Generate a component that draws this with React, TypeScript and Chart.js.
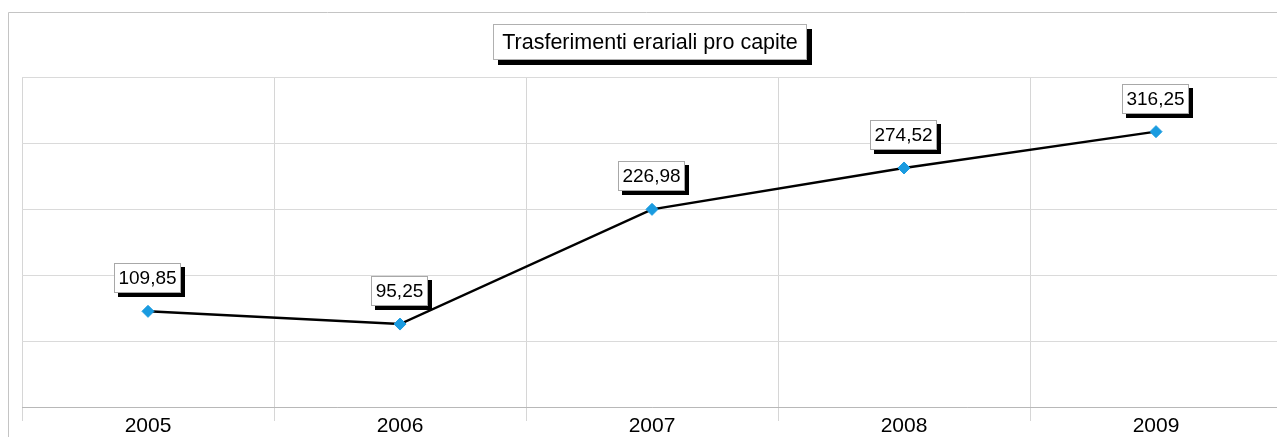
import React, { useEffect, useRef } from "react";
import { Chart, registerables } from "chart.js";

Chart.register(...registerables);

const TITLE = "Trasferimenti erariali pro capite";
const YEARS = ["2005", "2006", "2007", "2008", "2009"];
const VALUES = [109.85, 95.25, 226.98, 274.52, 316.25];
const Y_MAX = 379;
const FONT = '"Liberation Sans", Arial, sans-serif';

const fmt = (v: number) => v.toFixed(2).replace(".", ",");

const framePlugin = {
  id: "frame",
  beforeDraw(chart: any) {
    const ctx = chart.ctx;
    ctx.save();
    ctx.fillStyle = "#ffffff";
    ctx.fillRect(0, 0, chart.width, chart.height);
    ctx.strokeStyle = "#c4c4c4";
    ctx.lineWidth = 1;
    ctx.beginPath();
    ctx.moveTo(0.5, chart.height);
    ctx.lineTo(0.5, 0.5);
    ctx.lineTo(chart.width, 0.5);
    ctx.stroke();
    ctx.restore();
  },
};

const titlePlugin = {
  id: "boxTitle",
  afterDraw(chart: any) {
    const ctx = chart.ctx;
    const ca = chart.chartArea;
    ctx.save();
    ctx.font = `21.5px ${FONT}`;
    const tw = ctx.measureText(TITLE).width;
    const w = Math.round(tw + 18);
    const h = 36;
    const cx = (ca.left + ca.right) / 2 - 2;
    const x = Math.round(cx - w / 2);
    const y = 12;
    ctx.fillStyle = "#000000";
    ctx.fillRect(x + 5, y + 5, w, h);
    ctx.fillStyle = "#ffffff";
    ctx.fillRect(x, y, w, h);
    ctx.strokeStyle = "#b0b0b0";
    ctx.lineWidth = 1;
    ctx.strokeRect(x + 0.5, y + 0.5, w - 1, h - 1);
    ctx.fillStyle = "#000000";
    ctx.textAlign = "center";
    ctx.textBaseline = "middle";
    ctx.fillText(TITLE, x + w / 2, y + h / 2 + 1);
    ctx.restore();
  },
};

const labelPlugin = {
  id: "valueLabels",
  afterDatasetsDraw(chart: any) {
    const ctx = chart.ctx;
    const meta = chart.getDatasetMeta(0);
    const data = chart.data.datasets[0].data as number[];
    ctx.save();
    ctx.font = `19px ${FONT}`;
    meta.data.forEach((pt: any, i: number) => {
      const text = fmt(data[i]);
      const tw = ctx.measureText(text).width;
      const w = Math.round(tw + 9);
      const h = 30;
      const x = Math.round(pt.x - w / 2) - 1;
      const y = Math.round(pt.y - 18 - h);
      ctx.fillStyle = "#000000";
      ctx.fillRect(x + 4, y + 4, w, h);
      ctx.fillStyle = "#ffffff";
      ctx.fillRect(x, y, w, h);
      ctx.strokeStyle = "#a8a8a8";
      ctx.lineWidth = 1;
      ctx.strokeRect(x + 0.5, y + 0.5, w - 1, h - 1);
      ctx.fillStyle = "#000000";
      ctx.textAlign = "center";
      ctx.textBaseline = "middle";
      ctx.fillText(text, x + w / 2, y + h / 2 + 1);
    });
    ctx.restore();
  },
};

export default function App() {
  const ref = useRef<HTMLCanvasElement | null>(null);
  useEffect(() => {
    if (!ref.current) return;
    const chart = new Chart(ref.current, {
      type: "line",
      data: {
        labels: YEARS,
        datasets: [
          {
            data: VALUES,
            borderColor: "#000000",
            borderWidth: 2.5,
            pointStyle: "rectRot",
            pointRadius: 6,
            pointBackgroundColor: "#1a9be0",
            pointBorderColor: "#1a9be0",
            pointBorderWidth: 1,
            tension: 0,
            fill: false,
          },
        ],
      },
      options: {
        animation: false,
        responsive: false,
        maintainAspectRatio: false,
        devicePixelRatio: 1,
        layout: { autoPadding: false, padding: { left: 14, top: 65, right: 3, bottom: 0 } },
        plugins: {
          legend: { display: false },
          title: { display: false },
          tooltip: { enabled: false },
        },
        scales: {
          x: {
            type: "category",
            offset: true,
            grid: {
              offset: true,
              color: "#d6d6d6",
              lineWidth: 1,
              tickLength: 14,
              drawTicks: true,
            },
            border: { display: true, color: "#b8b8b8", width: 1 },
            ticks: {
              color: "#000000",
              font: { family: FONT, size: 21 },
              padding: -7,
              maxRotation: 0,
            },
            afterFit(scale: any) {
              scale.height = 30;
            },
          },
          y: {
            min: 0,
            max: Y_MAX,
            grid: { color: "#dadada", lineWidth: 1, drawTicks: false },
            border: { display: false },
            ticks: { display: false },
            afterBuildTicks(scale: any) {
              scale.ticks = [0, 1, 2, 3, 4, 5].map((i) => ({ value: (i * Y_MAX) / 5 }));
            },
            afterFit(scale: any) {
              scale.width = 0;
            },
          },
        },
      },
      plugins: [framePlugin, titlePlugin, labelPlugin],
    });
    return () => chart.destroy();
  }, []);
  return (
    <div style={{ marginTop: 4, marginLeft: 0 }}>
      <canvas ref={ref} width={1277} height={425} style={{ display: "block", width: 1277, height: 425 }} />
    </div>
  );
}
